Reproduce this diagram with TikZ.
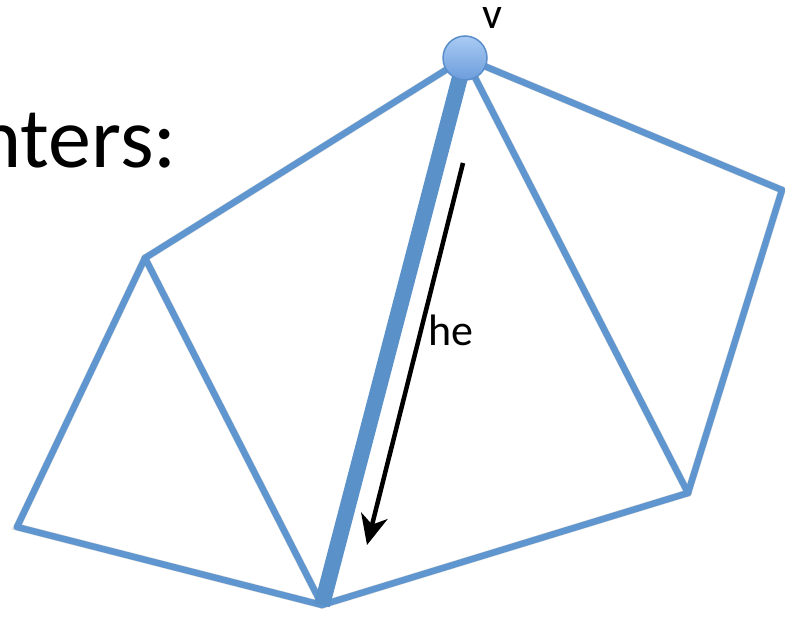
\documentclass[tikz,border=0pt]{standalone}
\usepackage{fontspec}
\setmainfont{Carlito}
\usetikzlibrary{arrows.meta,shadows}
\definecolor{edgeblue}{HTML}{5F96CF}
\definecolor{thickblue}{HTML}{5B91C9}
\definecolor{vtop}{HTML}{A9CBF4}
\definecolor{vbot}{HTML}{6C9DDB}
\definecolor{vrim}{HTML}{5A8ECB}
\tikzset{
  meshedge/.style={draw=edgeblue,line width=6.5pt,line join=miter,line cap=round},
  shadowedge/.style={draw=black,opacity=0.12,line width=7.5pt,line cap=round},
  heavyedge/.style={draw=thickblue,line width=16pt},
  vertexdot/.style={circle,minimum size=44pt,inner sep=0pt,draw=vrim,line width=1.5pt,top color=vtop,bottom color=vbot},
  lbl/.style={font=\fontsize{44}{44}\selectfont,inner sep=0pt},
  halfedge/.style={draw=black,line width=4.5pt,-{Stealth[length=30pt,width=27pt,inset=9pt]}}
}
\begin{document}
\begin{tikzpicture}[x=1pt,y=-1pt]
\useasboundingbox (0,0) rectangle (785,617);
\clip (0,0) rectangle (785,617);
\fill[white] (0,0) rectangle (785,617);
% coordinates
\coordinate (V) at (465,58);
\coordinate (A) at (145,258);
\coordinate (L) at (17,527);
\coordinate (B) at (322,605);
\coordinate (C) at (688,493);
\coordinate (D) at (782,190);
\coordinate (hs) at (463,163);
\coordinate (ht) at (367,545);
% partial title text
\node[font=\fontsize{86}{86}\selectfont,inner sep=0pt,anchor=base east] (title) at (177,168) {Pointers:};
% shadows
\begin{scope}[shift={(2,2)}]
\draw[shadowedge] (V) -- (A) -- (L) -- (B) -- (C) -- (D) -- (V);
\draw[shadowedge] (A) -- (B);
\draw[shadowedge] (V) -- (C);
\end{scope}
% edges
\draw[meshedge] (V) -- (A);
\draw[meshedge] (A) -- (L);
\draw[meshedge] (L) -- (B);
\draw[meshedge] (A) -- (B);
\draw[meshedge] (B) -- (C);
\draw[meshedge] (V) -- (C);
\draw[meshedge] (V) -- (D);
\draw[meshedge] (D) -- (C);
\draw[heavyedge] (V) -- (B);
% vertex
\node[vertexdot] (v) at (V) {};
\node[lbl,anchor=base west,text height=19pt,text depth=0pt] (vlabel) at (482,29) {v};
% half-edge arrow
\draw[halfedge] (hs) -- (ht);
\node[lbl,anchor=base west] (helabel) at (428,346) {he};
\end{tikzpicture}
\end{document}
